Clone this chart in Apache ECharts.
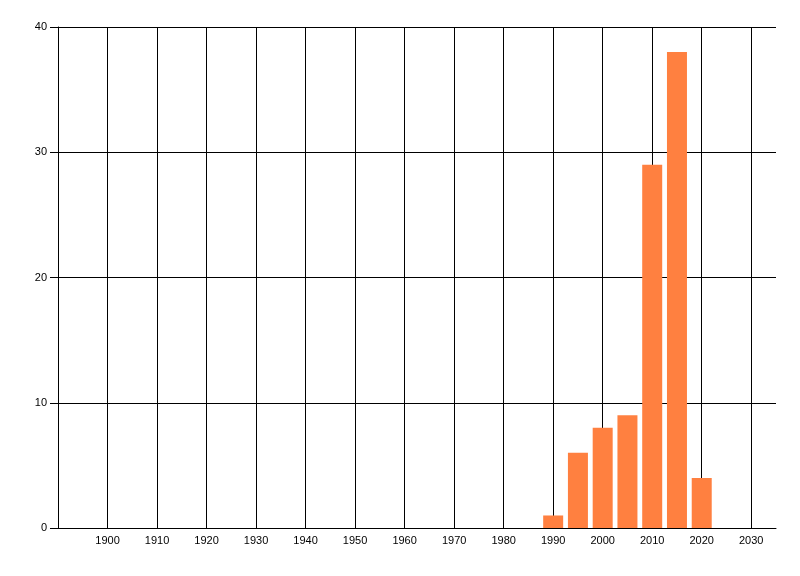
<!DOCTYPE html>
<html>
<head>
<meta charset="utf-8">
<script src="https://cdn.jsdelivr.net/npm/echarts@6/dist/echarts.min.js"></script>
<style>
  html, body { margin: 0; padding: 0; background: #fff; }
  #chart { width: 800px; height: 576px; }
</style>
</head>
<body>
<div id="chart"></div>
<script>
// bar data
const years = [1990, 1995, 2000, 2005, 2010, 2015, 2020];
const counts = [1, 6, 8, 9, 29, 38, 4];

const chart = echarts.init(document.getElementById("chart"));

const option = {
  animation: false,
  textStyle: { fontFamily: "Liberation Sans", fontSize: 11, color: "#000" },
  grid: { left: 58, right: 24, top: 27, bottom: 48 },
  xAxis: {
    type: "value",
    min: 1890,
    max: 2035,
    interval: 10,
    axisLine: { show: true, lineStyle: { color: "#000", width: 1 } },
    axisTick: { show: false },
    axisLabel: {
      color: "#000",
      fontSize: 11,
      margin: 7,
      formatter: v => (v === 1890 || v > 2030 ? "" : String(v)),
    },
    splitLine: {
      show: true,
      showMinLine: false,
      showMaxLine: false,
      lineStyle: { color: "#000", width: 1 },
    },
  },
  yAxis: {
    type: "value",
    min: 0,
    max: 40,
    interval: 10,
    axisLine: { show: true, lineStyle: { color: "#000", width: 1 } },
    axisTick: { show: true, length: 8, lineStyle: { color: "#000" } },
    axisLabel: { color: "#000", fontSize: 11, margin: 11 },
    splitLine: { show: true, lineStyle: { color: "#000", width: 1 } },
  },
  series: [
    {
      type: "bar",
      barWidth: 20,
      itemStyle: { color: "#ff8040" },
      data: years.map((y, i) => [y, counts[i]]),
    },
  ],
};
chart.setOption(option);
</script>
</body>
</html>
